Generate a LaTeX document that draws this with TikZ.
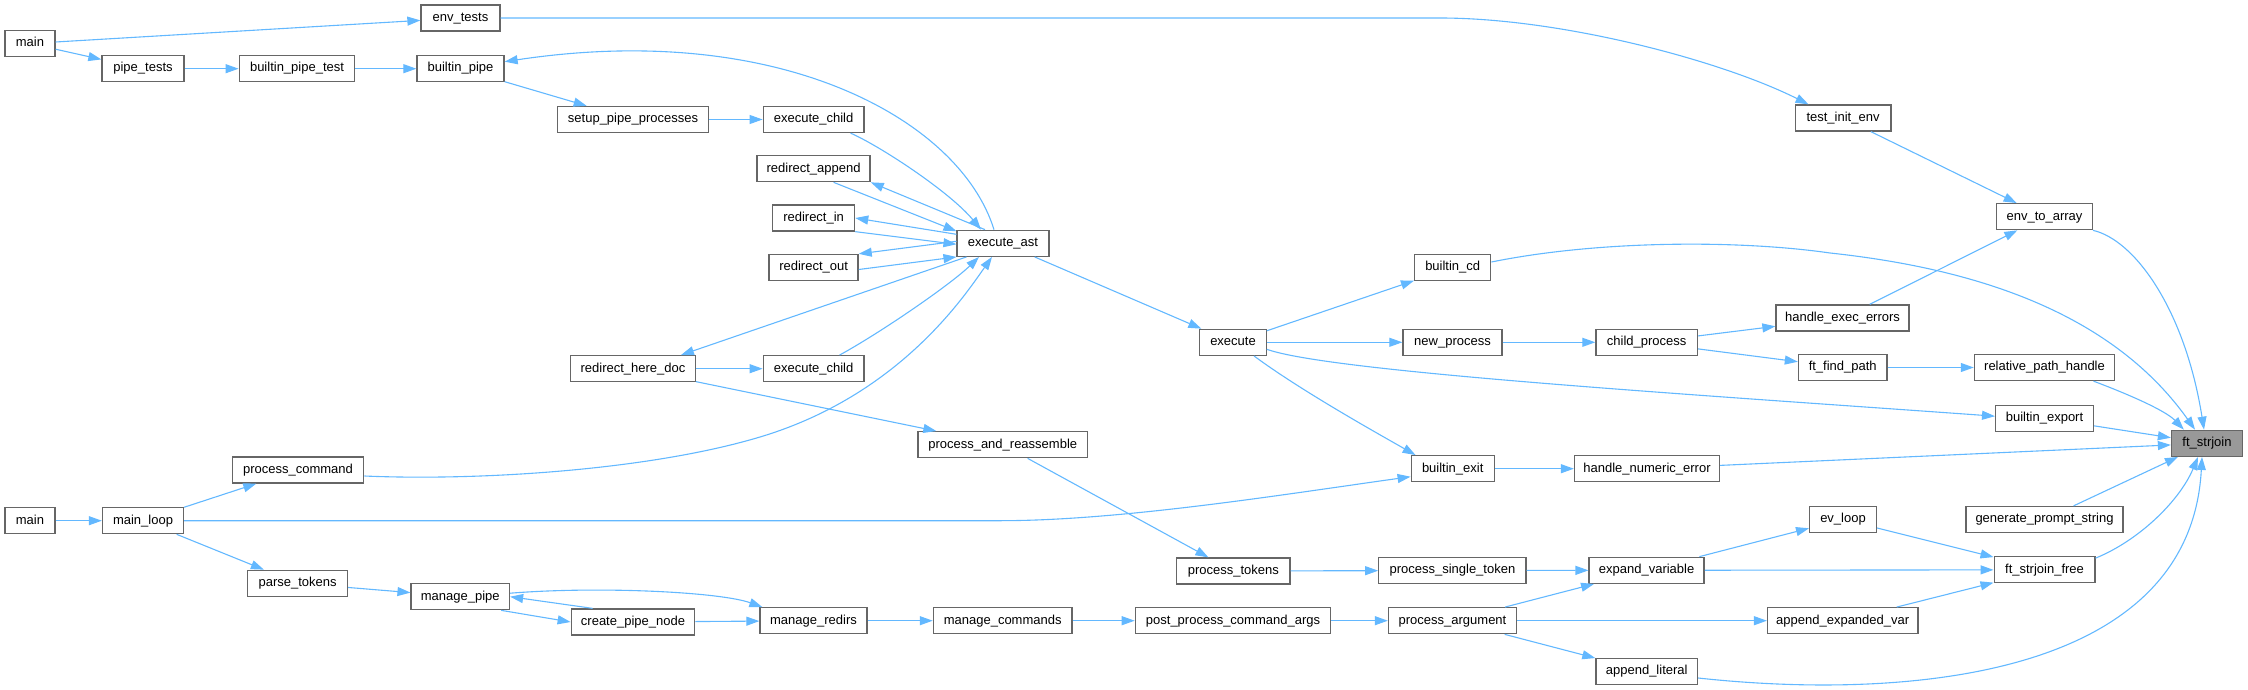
\documentclass[tikz,border=0pt]{standalone}
\usepackage{fontspec}
\setmainfont{Liberation Sans}
\usetikzlibrary{arrows.meta,calc}
\definecolor{edgec}{HTML}{63B8FF}
\definecolor{nodeb}{HTML}{666666}
\definecolor{hlfill}{HTML}{999999}
\begin{document}
\begin{tikzpicture}[x=1pt,y=-1pt,
  nd/.style={draw=nodeb,line width=1.3pt,fill=white,minimum height=26pt,inner xsep=1pt,inner ysep=0pt,
    text height=9.4pt,text depth=2.8pt,font=\fontsize{13}{15}\selectfont},
  hl/.style={nd,fill=hlfill},
  ed/.style={draw=edgec,line width=1.1pt,-{Triangle[length=13pt,width=9pt]}}]
\useasboundingbox (0,0) rectangle (2248,690);
% nodes
\node[nd,minimum width=50pt] (main1) at (30,43.5) {main};
\node[nd,minimum width=79pt] (env_tests) at (460.5,18) {env\_tests};
\node[nd,minimum width=82pt] (pipe_tests) at (143,68.7) {pipe\_tests};
\node[nd,minimum width=115.5pt] (builtin_pipe_test) at (297,68.7) {builtin\_pipe\_test};
\node[nd,minimum width=87pt] (builtin_pipe) at (460.5,68.7) {builtin\_pipe};
\node[nd,minimum width=151.6pt] (setup) at (633,119.5) {setup\_pipe\_processes};
\node[nd,minimum width=100.7pt] (exchild1) at (813.6,119.5) {execute\_child};
\node[nd,minimum width=113pt] (redirect_append) at (813.6,168.7) {redirect\_append};
\node[nd,minimum width=82pt] (redirect_in) at (813.6,218) {redirect\_in};
\node[nd,minimum width=89pt] (redirect_out) at (813.6,267.5) {redirect\_out};
\node[nd,minimum width=91.8pt] (execute_ast) at (1003,243.3) {execute\_ast};
\node[nd,minimum width=124.6pt] (redirect_here_doc) at (633,368.7) {redirect\_here\_doc};
\node[nd,minimum width=100.7pt] (exchild2) at (813.6,368.7) {execute\_child};
\node[nd,minimum width=131.5pt] (process_command) at (298,470) {process\_command};
\node[nd,minimum width=50pt] (main2) at (30,520.7) {main};
\node[nd,minimum width=81pt] (main_loop) at (143,520.7) {main\_loop};
\node[nd,minimum width=99.8pt] (parse_tokens) at (297.6,583.3) {parse\_tokens};
\node[nd,minimum width=98.4pt] (manage_pipe) at (460.3,596.7) {manage\_pipe};
\node[nd,minimum width=123.5pt] (create_pipe_node) at (633,622) {create\_pipe\_node};
\node[nd,minimum width=107pt] (manage_redirs) at (813.5,620.7) {manage\_redirs};
\node[nd,minimum width=138.6pt] (manage_commands) at (1002.7,620.7) {manage\_commands};
\node[nd,minimum width=195.3pt] (post_pca) at (1233,620.7) {post\_process\_command\_args};
\node[nd,minimum width=169.6pt] (process_and_reassemble) at (1002.7,444.7) {process\_and\_reassemble};
\node[nd,minimum width=66.4pt] (execute) at (1233,342.3) {execute};
\node[nd,minimum width=76.1pt] (builtin_cd) at (1452.7,267.5) {builtin\_cd};
\node[nd,minimum width=99pt] (new_process) at (1452.5,342.3) {new\_process};
\node[nd,minimum width=83pt] (builtin_exit) at (1452.7,468.7) {builtin\_exit};
\node[nd,minimum width=113.3pt] (process_tokens) at (1233.3,571) {process\_tokens};
\node[nd,minimum width=147.2pt] (process_single_token) at (1452.4,570.5) {process\_single\_token};
\node[nd,minimum width=128.1pt] (process_argument) at (1452.5,620.7) {process\_argument};
\node[nd,minimum width=95.7pt] (test_init_env) at (1843,118) {test\_init\_env};
\node[nd,minimum width=95.7pt] (env_to_array) at (2044.5,216.7) {env\_to\_array};
\node[nd,minimum width=133pt] (handle_exec_errors) at (1842.5,318) {handle\_exec\_errors};
\node[nd,minimum width=101.5pt] (child_process) at (1646.7,342.3) {child\_process};
\node[nd,minimum width=88.5pt] (ft_find_path) at (1842.7,367.5) {ft\_find\_path};
\node[nd,minimum width=140.2pt] (relative_path_handle) at (2044.5,367.5) {relative\_path\_handle};
\node[nd,minimum width=97.7pt] (builtin_export) at (2044.5,418.2) {builtin\_export};
\node[hl,minimum width=71pt] (ft_strjoin) at (2207,443.3) {ft\_strjoin};
\node[nd,minimum width=145pt] (handle_numeric_error) at (1647,468.7) {handle\_numeric\_error};
\node[nd,minimum width=66.7pt] (ev_loop) at (1843,519.5) {ev\_loop};
\node[nd,minimum width=156.8pt] (generate_prompt_string) at (2044.5,519.5) {generate\_prompt\_string};
\node[nd,minimum width=115pt] (expand_variable) at (1646.6,570.3) {expand\_variable};
\node[nd,minimum width=100.7pt] (ft_strjoin_free) at (2044.5,569.8) {ft\_strjoin\_free};
\node[nd,minimum width=150.3pt] (append_expanded_var) at (1842.7,620.7) {append\_expanded\_var};
\node[nd,minimum width=101.5pt] (append_literal) at (1646.7,671.5) {append\_literal};
% edges
\draw[ed] (main1) -- (env_tests);
\draw[ed] (main1) -- (pipe_tests);
\draw[ed] (pipe_tests) -- (builtin_pipe_test);
\draw[ed] (builtin_pipe_test) -- (builtin_pipe);
\draw[ed] (builtin_pipe) -- (setup);
\draw[ed] (setup) -- (exchild1);
\draw[ed] ($(exchild1.south)+(37,0)$) .. controls (880,146) and (950,192) .. ($(execute_ast.north)+(-22,0)$);
\draw[ed] ($(execute_ast.north)+(-9,0)$) .. controls (960,120) and (780,20) .. ($(builtin_pipe.east)+(0,-7)$);
\draw[ed] ($(execute_ast.north)+(-18,0)$) -- (redirect_append.south east);
\draw[ed] ($(redirect_append.south)+(20,0)$) -- ($(execute_ast.north west)+(0,1.5)$);
\draw[ed] ($(execute_ast.west)+(0,-9)$) -- (redirect_in.east);
\draw[ed] (redirect_in.south east) -- ($(execute_ast.west)+(0,1)$);
\draw[ed] ($(execute_ast.west)+(0,-2)$) -- (redirect_out.north east);
\draw[ed] ($(redirect_out.east)+(0,2)$) -- (execute_ast.south west);
\draw[ed] ($(execute_ast.south west)+(10,0)$) -- ($(redirect_here_doc.north east)+(-15,0)$);
\draw[ed] (redirect_here_doc) -- (exchild2);
\draw[ed] ($(exchild2.north)+(26,0)$) .. controls (880,333) and (950,285) .. ($(execute_ast.south)+(-24,0)$);
\draw[ed] (redirect_here_doc) -- (process_and_reassemble);
\draw[ed] ($(process_command.east)+(0,6)$) .. controls (480,481) and (650,470) .. (760,437)
  .. controls (900,395) and (965,295) .. ($(execute_ast.south)+(-11,0)$);
\draw[ed] (execute_ast) -- (execute);
\draw[ed] (execute) -- (builtin_cd);
\draw[ed] (execute) -- (new_process);
\draw[ed] ($(execute.east)+(0,7)$) .. controls (1330,372) and (1700,395) .. ($(builtin_export.west)+(0,-2)$);
\draw[ed] ($(execute.south)+(21,0)$) .. controls (1300,390) and (1375,432) .. ($(builtin_exit.north west)+(5,0)$);
\draw[ed] (main_loop) -- (process_command);
\draw[ed] (main_loop.east) -- (1000,520.7) .. controls (1120,520.7) and (1280,495) .. ($(builtin_exit.west)+(0,8)$);
\draw[ed] (main2) -- (main_loop);
\draw[ed] (main_loop) -- (parse_tokens);
\draw[ed] (parse_tokens) -- (manage_pipe);
\draw[ed] ($(manage_pipe.south east)+(-9,0)$) -- (create_pipe_node.west);
\draw[ed] ($(create_pipe_node.north west)+(22,0)$) -- (manage_pipe.east);
\draw[ed] ($(manage_pipe.east)+(0,-3.5)$) .. controls (600,586) and (720,592) .. ($(manage_redirs.north west)+(3,0)$);
\draw[ed] (create_pipe_node) -- (manage_redirs);
\draw[ed] (manage_redirs) -- (manage_commands);
\draw[ed] (manage_commands) -- (post_pca);
\draw[ed] (post_pca) -- (process_argument);
\draw[ed] (process_and_reassemble) -- (process_tokens);
\draw[ed] (process_tokens) -- (process_single_token);
\draw[ed] (process_single_token) -- (expand_variable);
\draw[ed] (process_argument) -- (expand_variable);
\draw[ed] (process_argument) -- (append_expanded_var);
\draw[ed] (process_argument) -- (append_literal);
\draw[ed] (expand_variable) -- (ev_loop);
\draw[ed] (expand_variable) -- (ft_strjoin_free);
\draw[ed] (ev_loop) -- (ft_strjoin_free);
\draw[ed] (append_expanded_var) -- (ft_strjoin_free);
\draw[ed] ($(ft_strjoin_free.north east)+(0,2)$) .. controls (2140,540) and (2180,500) .. ($(ft_strjoin.south)+(-9,0)$);
\draw[ed] ($(append_literal.east)+(0,6.5)$) .. controls (1900,700) and (2190,680) .. ($(ft_strjoin.south)+(-5,0)$);
\draw[ed] (generate_prompt_string) -- (ft_strjoin);
\draw[ed] (handle_numeric_error) -- (ft_strjoin);
\draw[ed] (builtin_exit) -- (handle_numeric_error);
\draw[ed] (builtin_export) -- (ft_strjoin);
\draw[ed] ($(relative_path_handle.south)+(49,0)$) .. controls (2125,393) and (2165,410) .. ($(ft_strjoin.north west)+(13,0)$);
\draw[ed] (ft_find_path) -- (relative_path_handle);
\draw[ed] (child_process) -- (ft_find_path);
\draw[ed] (child_process) -- (handle_exec_errors);
\draw[ed] (new_process) -- (child_process);
\draw[ed] (handle_exec_errors) -- (env_to_array);
\draw[ed] (test_init_env) -- (env_to_array);
\draw[ed] (env_tests.east) -- (1440,18) .. controls (1560,18) and (1720,60) .. ($(test_init_env.north west)+(14,0)$);
\draw[ed] (env_to_array.south east) .. controls (2135,240) and (2185,310) .. ($(ft_strjoin.north)+(-3,0)$);
\draw[ed] ($(builtin_cd.east)+(0,-5.5)$) .. controls (1600,240) and (1740,240) .. (1830,253)
  .. controls (1970,268) and (2110,310) .. ($(ft_strjoin.north)+(-12,0)$);
\end{tikzpicture}
\end{document}
